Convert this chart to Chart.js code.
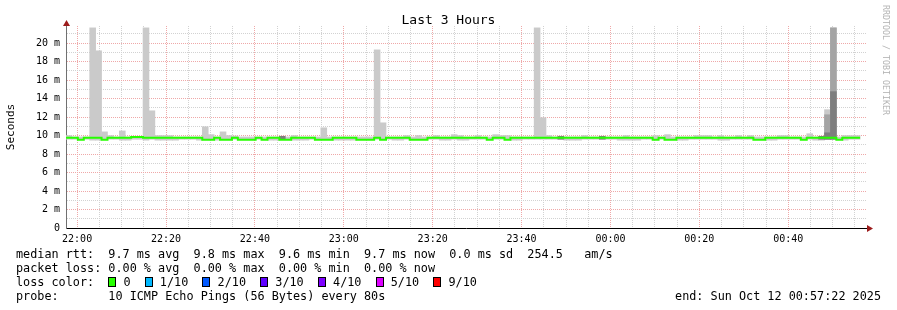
<!DOCTYPE html>
<html>
<head>
<meta charset="utf-8">
<title>Last 3 Hours</title>
<script src="https://cdn.jsdelivr.net/npm/chart.js@4.4.0/dist/chart.umd.min.js"></script>
<style>
  html, body { margin: 0; padding: 0; background: #fff; }
  #wrap { position: relative; width: 897px; height: 310px; overflow: hidden; font-family: "DejaVu Sans Mono", monospace; color: #000; }
  #chart { position: absolute; left: 0; top: 0; }
  .title { position: absolute; left: 0; width: 897px; top: 11.5px; text-align: center; font-size: 13px; line-height: 16px; }
  .ylab { position: absolute; left: -19px; top: 120px; width: 60px; height: 14px; text-align: center; font-size: 11px; line-height: 14px; color: #000; white-space: nowrap; transform: rotate(-90deg); }
  .credit { position: absolute; left: 826px; top: 55px; width: 120px; height: 10px; text-align: center; font-size: 8.3px; line-height: 10px; color: #b4b4b4; white-space: nowrap; transform: rotate(90deg); }
  .legend { position: absolute; left: 16px; top: 247px; font-size: 11.8px; line-height: 14px; white-space: pre; }
  .box { display: inline-block; width: 6px; height: 8px; border: 1px solid #000; vertical-align: -1px; }
  .end { position: absolute; right: 16px; top: 289px; font-size: 11.8px; line-height: 14px; white-space: pre; }
</style>
</head>
<body>
<div id="wrap">
  <canvas id="chart" width="897" height="310"></canvas>
  <div class="title">Last 3 Hours</div>
  <div class="ylab">Seconds</div>
  <div class="credit">RRDTOOL / TOBI OETIKER</div>
  <div class="legend" id="legend"></div>
  <div class="end">end: Sun Oct 12 00:57:22 2025</div>
</div>
<script>
// one step = 80 s, first step starts 21:57:30 (minutes relative to 22:00)
const stepMinutes = 80 / 60;
const startMinute = -2.5;
const stepCount = 135;

// median rtt per step (ms)
const medianMs = [
  9.75, 9.75, 9.55, 9.75, 9.75, 9.75, 9.55, 9.75, 9.75, 9.75,
  9.75, 9.85, 9.85, 9.75, 9.75, 9.75, 9.75, 9.75, 9.75, 9.75,
  9.75, 9.75, 9.75, 9.55, 9.55, 9.75, 9.55, 9.55, 9.75, 9.55,
  9.55, 9.55, 9.75, 9.55, 9.75, 9.75, 9.55, 9.55, 9.75, 9.75,
  9.75, 9.75, 9.55, 9.55, 9.55, 9.75, 9.75, 9.75, 9.75, 9.55,
  9.55, 9.55, 9.75, 9.55, 9.75, 9.75, 9.75, 9.75, 9.55, 9.55,
  9.55, 9.75, 9.75, 9.75, 9.75, 9.75, 9.75, 9.75, 9.75, 9.75,
  9.75, 9.55, 9.75, 9.75, 9.55, 9.75, 9.75, 9.75, 9.75, 9.75,
  9.75, 9.75, 9.75, 9.75, 9.75, 9.75, 9.75, 9.75, 9.75, 9.75,
  9.75, 9.75, 9.75, 9.75, 9.75, 9.75, 9.75, 9.75, 9.75, 9.55,
  9.75, 9.55, 9.55, 9.75, 9.75, 9.75, 9.75, 9.75, 9.75, 9.75,
  9.75, 9.75, 9.75, 9.75, 9.75, 9.75, 9.55, 9.55, 9.75, 9.75,
  9.75, 9.75, 9.75, 9.75, 9.55, 9.75, 9.75, 9.75, 9.75, 9.75,
  9.55, 9.75, 9.75, 9.75
];

// outer smoke (min / max ping) per step (ms)
const smokeLowMs = [
  9.6, 9.6, 9.6, 9.6, 9.5, 9.5, 9.6, 9.6, 9.6, 9.5,
  9.5, 9.6, 9.6, 9.5, 9.6, 9.5, 9.5, 9.5, 9.5, 9.6,
  9.6, 9.6, 9.5, 9.6, 9.6, 9.5, 9.6, 9.6, 9.6, 9.6,
  9.6, 9.6, 9.6, 9.6, 9.5, 9.5, 9.6, 9.6, 9.5, 9.5,
  9.5, 9.6, 9.6, 9.6, 9.6, 9.5, 9.5, 9.5, 9.5, 9.6,
  9.6, 9.6, 9.6, 9.6, 9.6, 9.5, 9.5, 9.6, 9.6, 9.6,
  9.6, 9.6, 9.6, 9.5, 9.5, 9.6, 9.5, 9.5, 9.6, 9.6,
  9.6, 9.6, 9.6, 9.6, 9.6, 9.5, 9.5, 9.6, 9.6, 9.6,
  9.6, 9.6, 9.6, 9.6, 9.5, 9.5, 9.5, 9.6, 9.6, 9.6,
  9.6, 9.6, 9.6, 9.5, 9.5, 9.5, 9.5, 9.6, 9.6, 9.6,
  9.6, 9.6, 9.6, 9.5, 9.5, 9.6, 9.6, 9.6, 9.6, 9.6,
  9.5, 9.5, 9.6, 9.6, 9.6, 9.6, 9.6, 9.6, 9.5, 9.5,
  9.6, 9.6, 9.6, 9.6, 9.6, 9.6, 9.5, 9.5, 9.6, 9.6,
  9.6, 9.5, 9.6, 9.6
];
const smokeHighMs = [
  10.0, 9.85, 9.85, 9.85, 21.65, 19.17, 10.4, 10.0, 9.85, 10.5,
  9.85, 9.85, 9.85, 21.65, 12.68, 10.0, 10.0, 10.0, 9.85, 9.85,
  9.85, 9.85, 9.85, 10.95, 10.1, 9.85, 10.4, 10.0, 9.95, 9.85,
  9.85, 9.85, 9.85, 9.85, 9.85, 9.85, 9.85, 9.85, 10.0, 9.85,
  9.85, 9.85, 9.85, 10.84, 9.85, 9.85, 9.85, 9.85, 9.85, 9.85,
  9.85, 9.85, 19.27, 11.38, 9.85, 9.85, 9.85, 10.0, 9.85, 10.0,
  9.85, 9.85, 10.0, 9.85, 9.85, 10.1, 10.0, 9.85, 9.85, 10.0,
  9.85, 9.85, 10.1, 10.0, 10.0, 9.85, 9.85, 9.85, 9.85, 21.65,
  11.93, 10.0, 9.85, 9.85, 9.85, 9.85, 9.85, 10.0, 9.85, 9.85,
  9.85, 9.85, 9.85, 9.85, 10.0, 9.85, 9.85, 9.85, 9.85, 10.0,
  9.85, 10.1, 9.85, 9.85, 9.85, 9.85, 10.0, 10.0, 10.0, 9.85,
  10.0, 9.85, 9.85, 10.0, 9.85, 10.0, 9.85, 9.85, 9.85, 9.85,
  10.0, 10.0, 9.85, 9.85, 9.85, 10.2, 9.85, 9.85, 12.8, 21.65,
  9.85, 10.0, 10.0, 10.0
];

// inner smoke bands, only where visible
const midSteps = [128, 129];
const midLowMs = [9.6, 9.6];
const midHighMs = [12.25, 21.65];
const darkSteps = [36, 83, 90, 127, 128, 129];
const darkLowMs = [9.6, 9.6, 9.6, 9.6, 9.6, 9.6];
const darkHighMs = [9.92, 9.92, 9.92, 9.92, 10.3, 14.75];

const xTickLabels = ['22:00', '22:20', '22:40', '23:00', '23:20', '23:40', '00:00', '00:20', '00:40'];
const yTickLabels = ['0', '2 m', '4 m', '6 m', '8 m', '10 m', '12 m', '14 m', '16 m', '18 m', '20 m'];

const lossLabels = ['0', '1/10', '2/10', '3/10', '4/10', '5/10', '9/10'];
const lossColors = ['#26ff00', '#00b8ff', '#0059ff', '#5e00ff', '#7e00ff', '#dd00ff', '#ff0000'];

const stepStart = (i) => startMinute + i * stepMinutes;
const stepCenter = (i) => startMinute + (i + 0.5) * stepMinutes;

const lightBars = smokeHighMs.map((hi, i) => ({ x: stepCenter(i), y: [smokeLowMs[i], hi] }));
const midBars = midSteps.map((s, i) => ({ x: stepCenter(s), y: [midLowMs[i], midHighMs[i]] }));
const darkBars = darkSteps.map((s, i) => ({ x: stepCenter(s), y: [darkLowMs[i], darkHighMs[i]] }));
const medianLine = medianMs.map((v, i) => ({ x: stepStart(i), y: v }));
medianLine.push({ x: stepStart(medianMs.length), y: medianMs[medianMs.length - 1] });

// legend text
const legendLines = [
  'median rtt:  9.7 ms avg  9.8 ms max  9.6 ms min  9.7 ms now  0.0 ms sd  254.5   am/s',
  'packet loss: 0.00 % avg  0.00 % max  0.00 % min  0.00 % now',
  'loss color:  ' + lossLabels.map((l, i) =>
    '<span class="box" style="background:' + lossColors[i] + '"></span> ' + l).join('  '),
  'probe:       10 ICMP Echo Pings (56 Bytes) every 80s'
];
document.getElementById('legend').innerHTML = legendLines.join('\n');

const gridMinutes = [];
for (let m = 0; m < 180; m += 5) gridMinutes.push(m);
const gridMs = [];
for (let v = 0; v <= 21; v++) gridMs.push(v);

const majorGrid = '#efa8a8';
const minorGrid = '#d2d2d2';

const axisArrows = {
  id: 'axisArrows',
  afterDraw(chart) {
    const { ctx, chartArea: a } = chart;
    ctx.save();
    ctx.fillStyle = '#9c1c1c';
    ctx.beginPath();
    ctx.moveTo(a.left + 0.5, a.top - 6);
    ctx.lineTo(a.left + 4, a.top);
    ctx.lineTo(a.left - 3, a.top);
    ctx.closePath();
    ctx.fill();
    ctx.beginPath();
    ctx.moveTo(a.right + 7, a.bottom + 0.5);
    ctx.lineTo(a.right + 1, a.bottom - 3);
    ctx.lineTo(a.right + 1, a.bottom + 4);
    ctx.closePath();
    ctx.fill();
    ctx.restore();
  }
};

Chart.defaults.font.family = '"DejaVu Sans Mono", monospace';

const barStyle = { grouped: false, barPercentage: 1, categoryPercentage: 1 };

new Chart(document.getElementById('chart').getContext('2d'), {
  type: 'bar',
  data: {
    datasets: [
      {
        type: 'line',
        data: medianLine,
        borderColor: lossColors[0],
        borderWidth: 2,
        pointRadius: 0,
        stepped: true,
        tension: 0,
        order: 0
      },
      Object.assign({ data: darkBars, backgroundColor: '#7e7e7e', order: 1 }, barStyle),
      Object.assign({ data: midBars, backgroundColor: '#a4a4a4', order: 2 }, barStyle),
      Object.assign({ data: lightBars, backgroundColor: '#cacaca', order: 3 }, barStyle)
    ]
  },
  options: {
    responsive: false,
    animation: false,
    devicePixelRatio: 1,
    events: [],
    layout: { padding: { left: 0, top: 26, right: 31, bottom: 0 } },
    plugins: { legend: { display: false }, tooltip: { enabled: false } },
    scales: {
      x: {
        type: 'linear',
        offset: false,
        min: startMinute,
        max: startMinute + stepCount * stepMinutes,
        afterFit: (s) => { s.height = 82; },
        afterBuildTicks: (s) => { s.ticks = gridMinutes.map((v) => ({ value: v })); },
        ticks: {
          autoSkip: false,
          maxRotation: 0,
          padding: 5,
          color: '#000',
          font: { size: 10 },
          callback: (v) => (v % 20 === 0 ? xTickLabels[v / 20] : '')
        },
        grid: {
          offset: false,
          drawTicks: false,
          lineWidth: 1,
          color: (c) => (c.tick && c.tick.value % 20 === 0 ? majorGrid : minorGrid)
        },
        border: { display: true, color: '#000', width: 1, dash: [1, 1] }
      },
      y: {
        min: 0,
        max: 21.85,
        afterFit: (s) => { s.width = 66; },
        afterBuildTicks: (s) => { s.ticks = gridMs.map((v) => ({ value: v })); },
        ticks: {
          autoSkip: false,
          padding: 6,
          color: '#000',
          font: { size: 10 },
          callback: (v) => (v % 2 === 0 ? yTickLabels[v / 2] : '')
        },
        grid: {
          drawTicks: false,
          lineWidth: 1,
          color: (c) => (c.tick && c.tick.value % 2 === 0 ? majorGrid : minorGrid)
        },
        border: { display: true, color: '#707070', width: 1, dash: [1, 1] }
      }
    }
  },
  plugins: [axisArrows]
});
</script>
</body>
</html>
